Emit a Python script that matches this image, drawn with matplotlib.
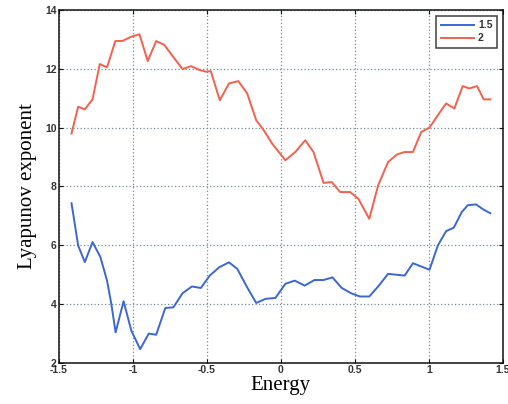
import matplotlib
matplotlib.use("Agg")
import matplotlib.pyplot as plt
import matplotlib.ticker as mticker

# Lyapunov exponent vs energy for two disorder strengths
energy_15 = [-1.415, -1.37, -1.325, -1.273, -1.22, -1.175, -1.146, -1.117, -1.063,
             -1.011, -0.951, -0.893, -0.843, -0.781, -0.727, -0.665, -0.602, -0.541,
             -0.481, -0.418, -0.351, -0.295, -0.228, -0.167, -0.104, -0.037, 0.03,
             0.093, 0.16, 0.227, 0.288, 0.348, 0.411, 0.474, 0.534, 0.597, 0.662,
             0.724, 0.78, 0.836, 0.892, 0.948, 1.004, 1.06, 1.116, 1.168, 1.222,
             1.262, 1.318, 1.37, 1.415]
lyap_15 = [7.43, 5.99, 5.43, 6.11, 5.6, 4.8, 4.01, 3.04, 4.1,
           3.1, 2.47, 3.0, 2.96, 3.87, 3.89, 4.37, 4.6, 4.55,
           4.97, 5.25, 5.42, 5.2, 4.57, 4.04, 4.18, 4.21, 4.69,
           4.8, 4.63, 4.82, 4.82, 4.91, 4.55, 4.37, 4.26, 4.26, 4.63,
           5.03, 5.0, 4.97, 5.39, 5.28, 5.17, 5.99, 6.48, 6.6, 7.13,
           7.36, 7.39, 7.21, 7.09]

energy_2 = [-1.415, -1.37, -1.325, -1.273, -1.224, -1.175, -1.119, -1.068, -1.011,
            -0.956, -0.9, -0.843, -0.788, -0.732, -0.665, -0.608, -0.552, -0.507,
            -0.474, -0.413, -0.351, -0.288, -0.228, -0.167, -0.116, -0.06, 0.03,
            0.097, 0.164, 0.22, 0.288, 0.343, 0.4, 0.467, 0.523, 0.597, 0.657,
            0.724, 0.785, 0.836, 0.892, 0.948, 1.004, 1.06, 1.116, 1.172, 1.228,
            1.273, 1.325, 1.37, 1.415]
lyap_2 = [9.8, 10.71, 10.62, 10.96, 12.16, 12.05, 12.94, 12.95, 13.09,
          13.17, 12.26, 12.94, 12.81, 12.43, 11.99, 12.09, 11.96, 11.9,
          11.92, 10.93, 11.5, 11.58, 11.16, 10.25, 9.91, 9.46, 8.89,
          9.17, 9.57, 9.17, 8.12, 8.15, 7.81, 7.81, 7.58, 6.9, 8.04,
          8.83, 9.09, 9.17, 9.17, 9.85, 10.0, 10.42, 10.82, 10.65, 11.41,
          11.33, 11.41, 10.96, 10.96]

x_ticks = [-1.5, -1, -0.5, 0, 0.5, 1, 1.5]
y_ticks = [2, 4, 6, 8, 10, 12, 14]

BLUE = "#3b66d4"
RED = "#f5604e"
GRID = "#6f8e9c"

fig = plt.figure(figsize=(5.08, 4.04), dpi=100)
ax = fig.add_axes([0.116, 0.1015, 0.874, 0.874])

ax.plot(energy_15, lyap_15, color=BLUE, lw=1.4, label="1.5")
ax.plot(energy_2, lyap_2, color=RED, lw=1.4, label="2")

ax.set_xlim(-1.5, 1.5)
ax.set_ylim(2, 14)
ax.set_xticks(x_ticks)
ax.set_yticks(y_ticks)
ax.xaxis.set_major_formatter(mticker.FormatStrFormatter("%g"))
ax.yaxis.set_major_formatter(mticker.FormatStrFormatter("%g"))
ax.tick_params(direction="in", length=3, width=0.8, top=True, right=True,
               labelsize=7.5, pad=1.5, colors="#111111")
for lbl in ax.get_xticklabels() + ax.get_yticklabels():
    lbl.set_family("Liberation Sans")
    lbl.set_weight("bold")
    lbl.set_color("#333333")
ax.grid(True, color=GRID, ls=(0, (1, 1.8)), lw=0.9)
for s in ax.spines.values():
    s.set_linewidth(1.1)
    s.set_color("#111111")

ax.set_xlabel("Energy", family="Liberation Serif", fontsize=15, labelpad=1)
ax.set_ylabel("Lyapunov exponent", family="Liberation Serif", fontsize=15, labelpad=6)

leg = ax.legend(loc="upper right", fontsize=7.5, frameon=True, fancybox=False,
                handlelength=3.2, handletextpad=0.4, borderpad=0.4,
                labelspacing=0.3, borderaxespad=0.6)
leg.get_frame().set_edgecolor("#111111")
leg.get_frame().set_linewidth(1.1)
for t in leg.get_texts():
    t.set_family("Liberation Sans")
    t.set_weight("bold")
    t.set_color("#333333")

fig.savefig("out.png", dpi=100)
